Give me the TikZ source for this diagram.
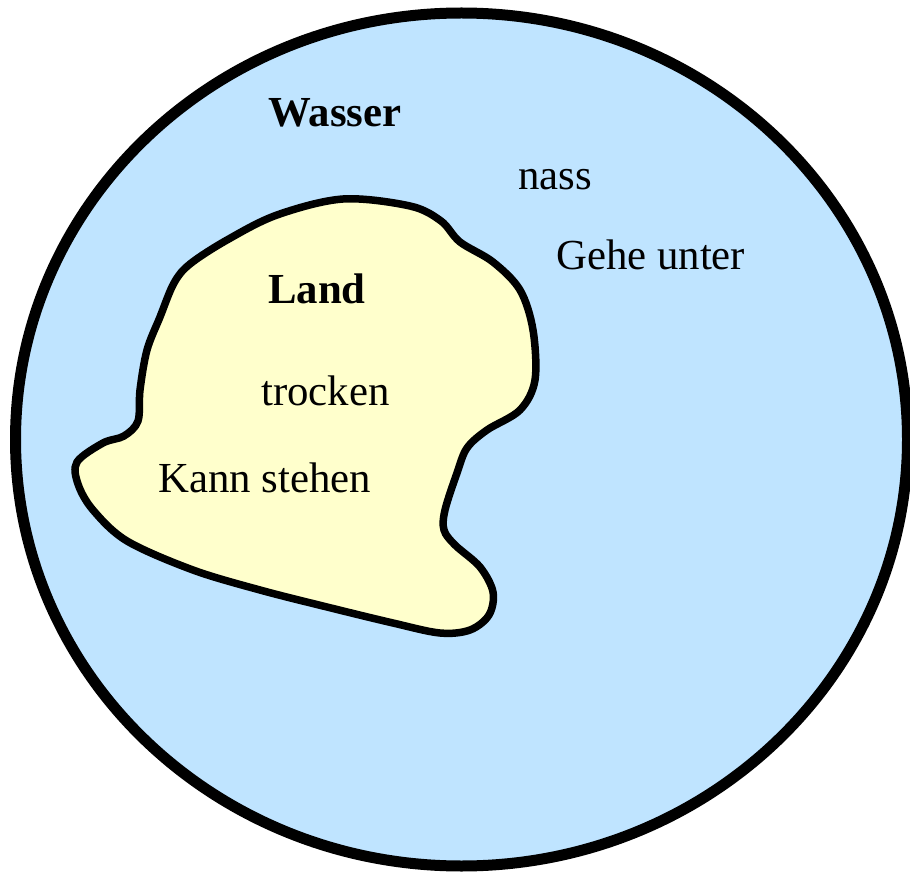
\documentclass[tikz,border=0pt]{standalone}
\usepackage{fontspec}
\setmainfont{Liberation Serif}
\usepackage{xcolor}
\definecolor{water}{HTML}{BFE4FF}
\definecolor{sand}{HTML}{FFFFCC}

\begin{document}
\begin{tikzpicture}[
    x=1pt,y=-1pt,
    label/.style={anchor=base west,inner sep=0pt,font=\fontsize{42.8}{50}\selectfont},
    title/.style={label,font=\fontsize{42.8}{50}\selectfont\bfseries}
]
\useasboundingbox (0,0) rectangle (910,874);
\draw[line width=11pt,fill=water] (461.5,439.5) ellipse [x radius=446,y radius=426.5];
\draw[line width=7.5pt,fill=sand] plot[smooth cycle,tension=0.55] coordinates {
    (77,462) (103,443) (124,436) (138,421) (140,390) (147,350) (160,317)
    (174,283) (190,264) (227,240) (277,215) (343,199) (410,206) (441,221)
    (460,242) (493,262) (520,290) (533,330) (535,380) (520,410) (487,430)
    (467,448) (457,473) (445,510) (444,530) (455,545) (480,567) (493,592)
    (489,615) (470,630) (440,633) (393,623) (327,607) (260,590) (193,570)
    (127,541) (93,510) (78,484)};
\node[title] (W) at (268,127) {Wasser};
\node[label] (n) at (518,190) {nass};
\node[label] (G) at (556,270) {Gehe unter};
\node[title] (L) at (268,304) {Land};
\node[label] (t) at (261,405) {trocken};
\node[label] (K) at (158,492) {Kann stehen};
\end{tikzpicture}
\end{document}
